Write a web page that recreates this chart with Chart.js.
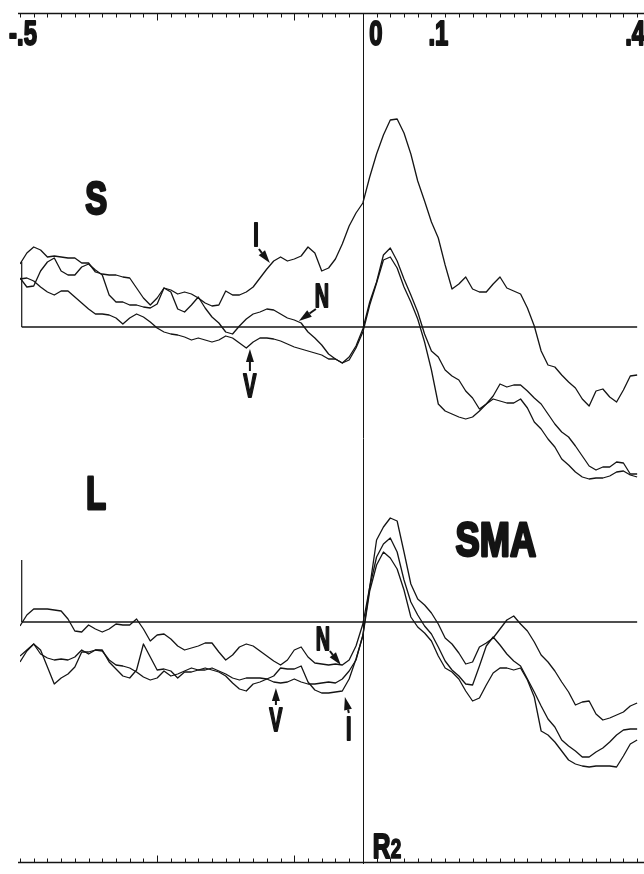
<!DOCTYPE html>
<html>
<head>
<meta charset="utf-8">
<script src="https://cdn.jsdelivr.net/npm/chart.js@4.4.1/dist/chart.umd.min.js"></script>
<style>
  html, body { margin: 0; padding: 0; background: #fff; }
  #fig { display: block; }
</style>
</head>
<body>
<canvas id="fig" width="644" height="874"></canvas>
<script>
// time base (s), one sample every 10 ms from -0.5 to 0.4
const times = [
  -0.50,-0.49,-0.48,-0.47,-0.46,-0.45,-0.44,-0.43,-0.42,-0.41,
  -0.40,-0.39,-0.38,-0.37,-0.36,-0.35,-0.34,-0.33,-0.32,-0.31,
  -0.30,-0.29,-0.28,-0.27,-0.26,-0.25,-0.24,-0.23,-0.22,-0.21,
  -0.20,-0.19,-0.18,-0.17,-0.16,-0.15,-0.14,-0.13,-0.12,-0.11,
  -0.10,-0.09,-0.08,-0.07,-0.06,-0.05,-0.04,-0.03,-0.02,-0.01,
   0.00, 0.01, 0.02, 0.03, 0.04, 0.05, 0.06, 0.07, 0.08, 0.09,
   0.10, 0.11, 0.12, 0.13, 0.14, 0.15, 0.16, 0.17, 0.18, 0.19,
   0.20, 0.21, 0.22, 0.23, 0.24, 0.25, 0.26, 0.27, 0.28, 0.29,
   0.30, 0.31, 0.32, 0.33, 0.34, 0.35, 0.36, 0.37, 0.38, 0.39,
   0.40
];

// panel S (upper): traces I, N, V
const sI = [
  6.3,7.4,8.0,7.7,7.0,7.1,7.0,6.9,6.9,6.4,
  6.4,5.5,5.3,5.2,5.2,5.0,4.9,3.9,2.9,2.2,
  2.9,3.9,3.7,3.3,3.5,3.3,2.9,2.4,2.1,2.2,
  3.6,3.2,3.2,3.5,4.0,4.9,5.8,6.6,7.0,6.6,
  6.8,7.1,8.0,7.4,5.6,5.9,6.8,8.3,10.1,11.4,
  12.4,15.0,17.3,19.2,20.7,20.8,19.4,17.3,14.6,12.6,
  10.5,8.9,6.2,3.8,4.3,5.0,3.8,3.5,3.5,4.3,
  5.0,3.9,3.6,3.3,1.9,0.1,-2.4,-3.8,-4.0,-4.8,
  -5.5,-6.1,-7.2,-7.9,-6.4,-6.2,-7.0,-7.5,-6.3,-4.9,
  -4.8
];
const sN = [
  4.9,4.0,4.1,5.6,6.5,6.9,5.6,5.2,5.2,6.0,
  6.3,5.7,5.2,3.2,2.5,2.5,2.2,2.2,2.0,1.9,
  2.3,3.9,3.5,1.8,1.5,2.2,3.0,1.9,1.0,0.4,
  -0.5,-0.7,0.1,0.8,1.3,1.5,1.8,1.7,1.3,0.9,
  0.7,0.4,-0.5,-1.1,-1.8,-2.7,-3.2,-3.6,-3.0,-1.9,
  -0.2,2.5,4.5,7.2,7.9,6.6,4.8,3.2,1.5,-0.7,
  -2.4,-3.0,-4.3,-4.9,-5.3,-6.4,-7.1,-8.2,-7.7,-6.9,
  -5.7,-6.0,-5.8,-5.8,-6.4,-7.1,-7.7,-8.7,-9.7,-10.5,
  -11.0,-11.9,-12.9,-13.9,-14.3,-14.0,-14.0,-13.5,-13.6,-14.7,
  -14.7
];
const sV = [
  4.8,4.9,4.6,4.0,3.5,3.2,3.6,3.6,3.0,2.4,
  1.8,1.3,1.3,1.2,0.9,0.3,0.9,1.3,1.0,0.5,
  -0.1,-0.5,-0.7,-0.8,-1.0,-1.3,-1.1,-1.3,-1.5,-1.3,
  -0.9,-1.1,-1.6,-2.1,-1.5,-1.1,-1.1,-1.2,-1.4,-1.7,
  -2.0,-2.2,-2.4,-2.6,-2.8,-3.2,-3.2,-3.6,-3.3,-2.1,
  -0.5,2.2,4.4,6.7,7.0,5.9,4.0,2.5,0.8,-1.5,
  -4.3,-7.7,-8.4,-8.7,-9.0,-9.2,-9.0,-8.4,-7.7,-7.2,
  -7.4,-7.6,-7.6,-7.2,-8.1,-9.5,-10.2,-11.2,-12.0,-13.2,
  -13.8,-14.5,-15.0,-15.2,-15.1,-15.1,-14.9,-14.5,-14.4,-14.8,
  -15.0
];

// panel L (lower): traces N, V, I
const lN = [
  -0.4,0.7,1.3,1.3,1.3,1.2,1.1,0.3,-0.9,-1.0,
  -0.3,-0.7,-1.0,-0.7,-0.2,-0.3,-0.3,0.3,-0.7,-1.9,
  -1.3,-1.2,-1.7,-2.4,-2.8,-2.6,-2.4,-2.1,-2.1,-3.0,
  -3.8,-3.3,-2.5,-2.2,-2.4,-2.9,-3.4,-3.9,-4.3,-3.8,
  -2.8,-2.5,-3.5,-4.1,-4.2,-4.3,-4.2,-4.3,-3.8,-2.4,
  -0.2,3.5,8.2,9.5,10.4,10.1,7.0,3.8,2.3,1.7,
  0.9,-0.2,-1.6,-2.2,-3.1,-4.2,-4.0,-2.5,-2.1,-1.6,
  -0.7,0.2,0.6,-0.2,-0.9,-2.0,-3.3,-4.0,-4.9,-6.0,
  -7.0,-8.3,-8.0,-7.9,-9.2,-9.8,-9.6,-9.3,-9.0,-8.4,
  -8.1
];
const lV = [
  -3.4,-2.8,-2.2,-3.2,-3.6,-3.8,-3.7,-3.8,-3.5,-2.8,
  -3.2,-2.8,-2.9,-3.8,-4.3,-4.4,-4.6,-5.0,-5.5,-5.8,
  -5.6,-4.9,-5.4,-5.2,-4.9,-4.6,-4.8,-4.8,-4.6,-4.9,
  -5.2,-5.6,-5.8,-5.6,-5.6,-5.6,-5.7,-6.0,-6.1,-6.0,
  -5.7,-6.0,-6.2,-6.2,-6.1,-6.0,-6.1,-5.7,-4.9,-3.8,
  -1.3,3.5,6.5,7.8,8.4,7.0,4.2,2.0,0.7,-0.4,
  -1.2,-2.5,-3.9,-4.8,-5.4,-6.2,-6.3,-4.4,-2.4,-1.5,
  -2.3,-3.2,-3.9,-4.4,-5.7,-7.0,-8.4,-9.7,-10.5,-11.8,
  -12.4,-12.9,-13.5,-13.5,-13.0,-12.6,-12.0,-11.3,-10.8,-10.7,
  -10.7
];
const lI = [
  -4.0,-2.9,-2.2,-2.8,-4.5,-6.2,-5.6,-5.2,-4.5,-3.0,
  -3.0,-2.8,-2.8,-4.0,-4.7,-5.4,-5.6,-4.8,-2.2,-3.5,
  -4.8,-4.7,-4.9,-5.6,-5.0,-5.0,-4.8,-4.6,-4.8,-5.0,
  -5.4,-6.1,-6.7,-6.9,-6.2,-6.0,-5.7,-5.4,-4.6,-4.7,
  -4.7,-4.4,-6.0,-6.8,-7.1,-7.1,-7.0,-6.9,-5.7,-3.7,
  -1.4,3.1,5.7,7.0,6.4,5.3,3.2,0.5,-0.5,-1.1,
  -1.9,-3.4,-4.6,-5.0,-5.7,-6.9,-7.9,-7.6,-6.3,-5.1,
  -4.6,-4.6,-4.8,-4.6,-5.8,-7.5,-10.9,-11.3,-12.0,-12.9,
  -13.8,-14.2,-14.4,-14.5,-14.4,-14.4,-14.4,-14.5,-13.4,-12.2,
  -11.8
];

// calibration bar heights (same units as the traces)
const calS = 6.5;
const calL = 6.2;

// time axis ticks (every 20 ms) and labels
const minorTicks = [
  -0.50,-0.48,-0.46,-0.44,-0.42,-0.40,-0.38,-0.36,-0.34,-0.32,
  -0.30,-0.28,-0.26,-0.24,-0.22,-0.20,-0.18,-0.16,-0.14,-0.12,
  -0.10,-0.08,-0.06,-0.04,-0.02, 0.00, 0.02, 0.04, 0.06, 0.08,
   0.10, 0.12, 0.14, 0.16, 0.18, 0.20, 0.22, 0.24, 0.26, 0.28,
   0.30, 0.32, 0.34, 0.36, 0.38, 0.40
];
const majorTicks = [-0.30, -0.10];
const tickLabelValues = [-0.5, 0, 0.1, 0.4];
const tickLabels = ['-.5', '0', '.1', '.4'];

// text marks: trace labels with arrows, panel titles
const traceMarks = [
  { panel: 'yS', text: 'I', at: [-0.156, 9.3], from: [-0.1516, 7.8], to: [-0.1356, 6.4] },
  { panel: 'yS', text: 'N', at: [-0.0598, 3.2], from: [-0.0685, 1.8], to: [-0.0933, 0.6] },
  { panel: 'yS', text: 'V', at: [-0.1647, -5.8], from: [-0.1647, -4.4], to: [-0.1647, -2.2] },
  { panel: 'yL', text: 'N', at: [-0.0583, -1.6], from: [-0.0481, -2.9], to: [-0.0321, -4.3] },
  { panel: 'yL', text: 'V', at: [-0.1268, -9.7], from: [-0.1268, -8.3], to: [-0.1268, -6.6] },
  { panel: 'yL', text: 'I', at: [-0.0204, -10.6], from: [-0.0204, -9.1], to: [-0.0262, -7.5] }
];
const panelTitles = [
  { panel: 'yS', text: 'S', at: [-0.389, 13.0] },
  { panel: 'yL', text: 'L', at: [-0.389, 13.0] },
  { panel: 'yL', text: 'SMA', at: [0.194, 8.4] }
];

const INK = '#141414';
const FONT = '"Liberation Sans", Arial, sans-serif';

function toPoints(vals) {
  return vals.map((v, i) => ({ x: times[i], y: v }));
}

function stroke(ctx, x1, y1, x2, y2) {
  ctx.beginPath();
  ctx.moveTo(x1, y1);
  ctx.lineTo(x2, y2);
  ctx.stroke();
}

// heavy bold text squeezed horizontally, like the condensed lettering of the figure
function narrowText(ctx, text, cx, baseY, size, squeeze, align) {
  ctx.save();
  ctx.font = 'bold ' + size + 'px ' + FONT;
  ctx.translate(cx, baseY);
  ctx.scale(squeeze, 1);
  ctx.textAlign = align || 'center';
  ctx.textBaseline = 'alphabetic';
  ctx.lineJoin = 'round';
  ctx.lineWidth = size * 0.06;
  ctx.fillText(text, 0, 0);
  ctx.strokeText(text, 0, 0);
  ctx.restore();
}

function arrow(ctx, x1, y1, x2, y2) {
  const ang = Math.atan2(y2 - y1, x2 - x1);
  const head = 13, half = 4;
  const bx = x2 - head * Math.cos(ang), by = y2 - head * Math.sin(ang);
  ctx.lineWidth = 2;
  stroke(ctx, x1, y1, bx, by);
  ctx.beginPath();
  ctx.moveTo(x2, y2);
  ctx.lineTo(bx + half * Math.sin(ang), by - half * Math.cos(ang));
  ctx.lineTo(bx - half * Math.sin(ang), by + half * Math.cos(ang));
  ctx.closePath();
  ctx.fill();
}

const figurePlugin = {
  id: 'figure',
  afterDraw(chart) {
    const { ctx, chartArea: a, scales } = chart;
    const x = scales.x;
    ctx.save();
    ctx.strokeStyle = INK;
    ctx.fillStyle = INK;

    // top and bottom time axes, ticks pointing inwards
    const top = a.top + 0.5, bot = a.bottom + 0.5;
    ctx.lineWidth = 1.5;
    stroke(ctx, a.left - 2, top, a.right, top);
    stroke(ctx, a.left - 2, bot, a.right, bot);
    ctx.lineWidth = 1;
    minorTicks.forEach(v => {
      const px = Math.round(x.getPixelForValue(v)) + 0.5;
      const major = majorTicks.includes(v);
      stroke(ctx, px, top, px, top + (major ? 7 : 4));
      stroke(ctx, px, bot, px, bot - (major ? 7 : 4));
    });

    // stimulus line at t = 0
    const zx = Math.round(x.getPixelForValue(0)) + 0.5;
    stroke(ctx, zx, a.top, zx, a.bottom + 2);

    // tick labels, hand lettered so nudged a little
    const nudge = [3, 13, 7, -2];
    tickLabelValues.forEach((v, i) => {
      narrowText(ctx, tickLabels[i], x.getPixelForValue(v) + nudge[i], a.top + 32, 35, 0.68);
    });

    // panel titles
    panelTitles.forEach(t => {
      const y = scales[t.panel];
      const size = t.text.length > 1 ? 49 : 47;
      const sq = t.text.length > 1 ? 0.74 : 0.7;
      narrowText(ctx, t.text, x.getPixelForValue(t.at[0]), y.getPixelForValue(t.at[1]) + 0.36 * size, size, sq);
    });

    // R2 under the zero line
    const yL = scales.yL;
    const rx = x.getPixelForValue(0.0146);
    const ry = yL.getPixelForValue(-23.6);
    narrowText(ctx, 'R', rx, ry, 35, 0.7, 'left');
    narrowText(ctx, '2', rx + 18, ry, 27, 0.7, 'left');

    // trace labels with arrows
    traceMarks.forEach(m => {
      const y = scales[m.panel];
      narrowText(ctx, m.text, x.getPixelForValue(m.at[0]), y.getPixelForValue(m.at[1]) + 12, 33, 0.6);
      arrow(ctx,
        x.getPixelForValue(m.from[0]), y.getPixelForValue(m.from[1]),
        x.getPixelForValue(m.to[0]), y.getPixelForValue(m.to[1]));
    });
    ctx.restore();
  }
};

function trace(vals, axis) {
  return { data: toPoints(vals), yAxisID: axis, borderColor: INK, borderWidth: 1.3 };
}
function straight(points, axis, width) {
  return { data: points, yAxisID: axis, borderColor: INK, borderWidth: width };
}

const datasets = [
  trace(sI, 'yS'), trace(sN, 'yS'), trace(sV, 'yS'),
  trace(lN, 'yL'), trace(lV, 'yL'), trace(lI, 'yL'),
  straight([{ x: -0.4975, y: 0 }, { x: 0.40, y: 0 }], 'yS', 1.6),
  straight([{ x: -0.4975, y: 0 }, { x: 0.40, y: 0 }], 'yL', 1.6),
  straight([{ x: -0.4975, y: 0 }, { x: -0.4975, y: calS }], 'yS', 1.2),
  straight([{ x: -0.4975, y: 0 }, { x: -0.4975, y: calL }], 'yL', 1.2)
];

new Chart(document.getElementById('fig'), {
  type: 'line',
  data: { datasets: datasets },
  options: {
    responsive: false,
    animation: false,
    events: [],
    layout: { padding: { left: 20, right: 0, top: 13, bottom: 12 } },
    plugins: { legend: { display: false }, tooltip: { enabled: false } },
    elements: {
      point: { radius: 0 },
      line: { tension: 0, borderJoinStyle: 'round' }
    },
    scales: {
      x: { type: 'linear', min: -0.5, max: 0.41, display: false },
      yS: { type: 'linear', min: -53.5, max: 31.4, display: false },
      yL: { type: 'linear', min: -24, max: 60.9, display: false }
    }
  },
  plugins: [figurePlugin]
});
</script>
</body>
</html>
